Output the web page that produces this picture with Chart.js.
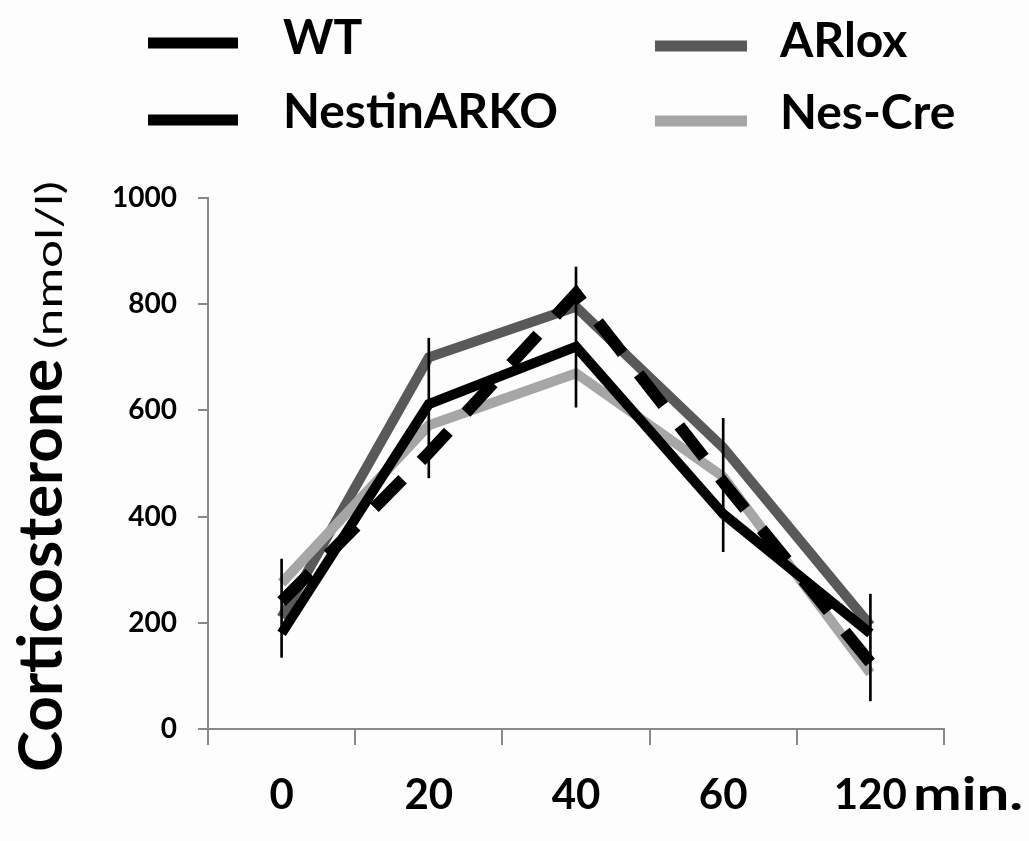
<!DOCTYPE html>
<html>
<head>
<meta charset="utf-8">
<script src="https://cdn.jsdelivr.net/npm/chart.js@4"></script>
<style>
  body { margin: 0; background: #fdfdfd; }
  #wrap { width: 1029px; height: 841px; }
</style>
</head>
<body>
<div id="wrap"><canvas id="myChart" width="1029" height="841"></canvas></div>
<script>
// time points (min.)
const timePoints = ['0', '20', '40', '60', '120'];

// corticosterone (nmol/l)
const wt = [180, 612, 720, 405, 180];
const nestinArko = [240, 520, 820, 465, 125];
const arLox = [210, 700, 795, 530, 195];
const nesCre = [275, 572, 670, 475, 105];

// error bar ends
const errLow = [135, 473, 606, 334, 53];
const errHigh = [320, 736, 870, 585, 254];

const yTicks = [0, 200, 400, 600, 800, 1000];

const FONT = 'Lato';
const AXIS_GREY = '#898989';

// legend (2 x 2), title and the "min." unit drawn by hand
const annotate = {
	id: 'annotate',
	afterDraw(chart) {
		const ctx = chart.ctx;
		const ds = chart.data.datasets;
		ctx.save();

		// legend: left column WT / NestinARKO, right column ARlox / Nes-Cre
		const items = [
			{ i: 0, x1: 148, x2: 238, ly: 43, tx: 283, ty: 54 },
			{ i: 1, x1: 148, x2: 238, ly: 120, tx: 283, ty: 128 },
			{ i: 2, x1: 655, x2: 747, ly: 46, tx: 780, ty: 57 },
			{ i: 3, x1: 655, x2: 747, ly: 121, tx: 780, ty: 129 }
		];
		items.forEach(it => {
			const d = ds[it.i];
			ctx.beginPath();
			ctx.setLineDash([]);
			ctx.lineWidth = 11;
			ctx.lineCap = 'butt';
			ctx.strokeStyle = d.borderColor;
			ctx.moveTo(it.x1, it.ly);
			ctx.lineTo(it.x2, it.ly);
			ctx.stroke();
			ctx.fillStyle = '#000';
			ctx.font = 'bold 48px ' + FONT;
			ctx.textBaseline = 'alphabetic';
			ctx.textAlign = 'left';
			ctx.fillText(d.label, it.tx, it.ty);
		});

		// y axis title, rotated
		ctx.translate(62, 772);
		ctx.rotate(-Math.PI / 2);
		ctx.fillStyle = '#000';
		ctx.textAlign = 'left';
		ctx.textBaseline = 'alphabetic';
		ctx.font = 'bold 62px ' + FONT;
		const w1 = ctx.measureText('Corticosterone').width;
		ctx.fillText('Corticosterone', 0, 0);
		ctx.font = '36px ' + FONT;
		const w2 = ctx.measureText('(nmol/l)').width;
		ctx.translate(w1 + 10, 0);
		ctx.scale(168 / w2, 1);
		ctx.fillText('(nmol/l)', 0, 0);
		ctx.restore();

		// unit after the last x label
		ctx.save();
		ctx.fillStyle = '#000';
		ctx.font = 'bold 46px ' + FONT;
		ctx.textAlign = 'left';
		ctx.textBaseline = 'alphabetic';
		const wm = ctx.measureText('min.').width;
		ctx.translate(913, 810);
		ctx.scale(110 / wm, 1);
		ctx.fillText('min.', 0, 0);
		ctx.restore();
	}
};

const ctx = document.getElementById('myChart');
const myChart = new Chart(ctx, {
	type: 'line',
	data: {
		labels: timePoints,
		datasets: [{
			label: 'WT',
			data: wt,
			borderColor: '#000000',
			borderWidth: 10,
			order: 3
		}, {
			label: 'NestinARKO',
			data: nestinArko,
			borderColor: '#000000',
			borderWidth: 12,
			borderDash: [40, 26],
			order: 2
		}, {
			label: 'ARlox',
			data: arLox,
			borderColor: '#595959',
			borderWidth: 10,
			order: 5
		}, {
			label: 'Nes-Cre',
			data: nesCre,
			borderColor: '#a6a6a6',
			borderWidth: 10,
			order: 4
		}, {
			type: 'bar',
			label: 'error',
			data: errLow.map((lo, i) => [lo, errHigh[i]]),
			backgroundColor: '#000000',
			barThickness: 2,
			order: 1
		}]
	},
	options: {
		responsive: false,
		animation: false,
		layout: {
			padding: { top: 198, right: 85, bottom: 0, left: 0 }
		},
		elements: {
			point: { radius: 0 },
			line: { tension: 0, borderCapStyle: 'butt', borderJoinStyle: 'miter', fill: false }
		},
		plugins: {
			legend: { display: false },
			tooltip: { enabled: false }
		},
		scales: {
			x: {
				offset: true,
				grid: {
					offset: true,
					drawOnChartArea: false,
					tickLength: 16,
					color: AXIS_GREY,
					lineWidth: 2
				},
				border: { color: AXIS_GREY, width: 2 },
				ticks: {
					color: '#000',
					font: { family: FONT, size: 42, weight: 'bold' },
					padding: 25
				},
				afterFit: function(scale) { scale.height = 112; }
			},
			y: {
				min: 0,
				max: 1000,
				afterBuildTicks: function(scale) {
					scale.ticks = yTicks.map(v => ({ value: v }));
				},
				grid: {
					drawOnChartArea: false,
					tickLength: 10,
					color: AXIS_GREY,
					lineWidth: 2
				},
				border: { color: AXIS_GREY, width: 2 },
				ticks: {
					color: '#000',
					font: { family: FONT, size: 28, weight: 'bold' },
					padding: 21,
					callback: function(value) { return String(value); }
				},
				afterFit: function(scale) { scale.width = 208; }
			}
		}
	},
	plugins: [annotate]
});
</script>
</body>
</html>
